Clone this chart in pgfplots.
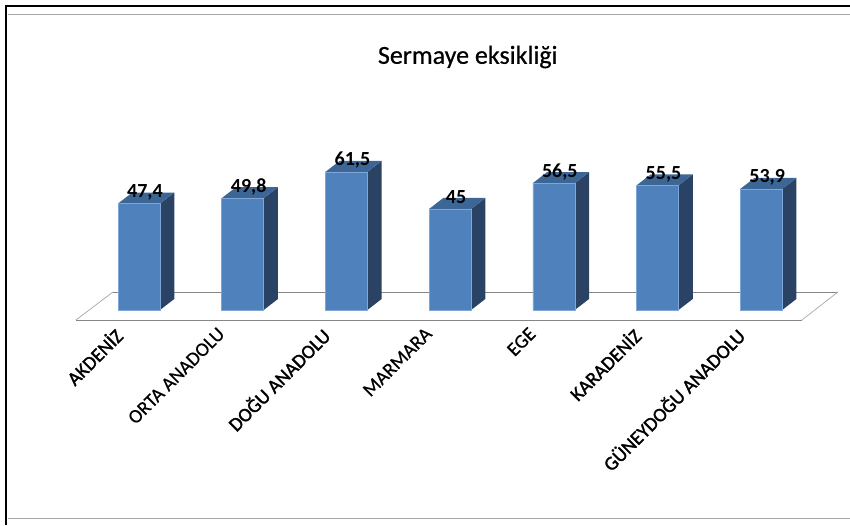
\documentclass[border=0pt]{standalone}
\usepackage{fontspec}
\usepackage{pgfplots}
\pgfplotsset{compat=1.18}
\setmainfont{Carlito}
\newfontfamily\smear[FakeBold=1.6]{Carlito}
\newfontfamily\semi[FakeBold=0.5]{Carlito}
\definecolor{barfront}{HTML}{4F81BD}
\definecolor{barside}{HTML}{2A4365}
\definecolor{bartop}{HTML}{3C6696}
\definecolor{baredge}{HTML}{7FA6D6}
\definecolor{floorline}{HTML}{868686}
\begin{document}
\begin{tikzpicture}
\begin{axis}[
    scale only axis,
    width=850pt, height=525pt,
    xmin=-1.3404, xmax=6.8563,
    ymin=-95.8, ymax=138.1,
    clip=false,
    axis x line=middle,
    axis y line=none,
    x axis line style={draw=none},
    major tick length=0pt,
    xtick={0,1,2,3,4,5,6},
    ytick=\empty,
    xticklabels={{\smear AKDENİZ},{\semi ORTA ANADOLU},{\smear DOĞU ANADOLU},{\semi MARMARA},{\semi EGE},{\smear KARADENİZ},{\smear GÜNEYDOĞU ANADOLU}},
    xticklabel style={font=\fontsize{19.5}{19.5}\selectfont, anchor=north east, xshift=-26pt, yshift=-16pt, rotate=45, inner sep=0pt},
]
\coordinate (sw) at (rel axis cs:0,0);
\coordinate (ne) at (rel axis cs:1,1);
% floor
\addplot[floorline, line width=0.9pt] coordinates {(-0.6075,-4.46) (6.393,-4.46)};
\addplot[floorline, line width=0.9pt] coordinates {(-0.2507,8.02) (6.74,8.02)};
\addplot[gray!70, line width=0.7pt] coordinates {(-0.6075,-4.46) (-0.2507,8.02)};
\addplot[gray!70, line width=0.7pt] coordinates {(6.393,-4.46) (6.74,8.02)};
% side faces
\addplot[fill=barside, draw=none] coordinates {(0.2027,0) (0.3400,4.9) (0.3400,52.3) (0.2027,47.4)} -- cycle;
\addplot[fill=barside, draw=none] coordinates {(1.2027,0) (1.3400,4.9) (1.3400,54.7) (1.2027,49.8)} -- cycle;
\addplot[fill=barside, draw=none] coordinates {(2.2027,0) (2.3400,4.9) (2.3400,66.4) (2.2027,61.5)} -- cycle;
\addplot[fill=barside, draw=none] coordinates {(3.2027,0) (3.3400,4.9) (3.3400,49.9) (3.2027,45)} -- cycle;
\addplot[fill=barside, draw=none] coordinates {(4.2027,0) (4.3400,4.9) (4.3400,61.4) (4.2027,56.5)} -- cycle;
\addplot[fill=barside, draw=none] coordinates {(5.2027,0) (5.3400,4.9) (5.3400,60.4) (5.2027,55.5)} -- cycle;
\addplot[fill=barside, draw=none] coordinates {(6.2027,0) (6.3400,4.9) (6.3400,58.8) (6.2027,53.9)} -- cycle;
% top faces
\addplot[fill=bartop, draw=none] coordinates {(-0.2027,47.4) (0.2027,47.4) (0.3400,52.3) (-0.0654,52.3)} -- cycle;
\addplot[fill=bartop, draw=none] coordinates {(0.7973,49.8) (1.2027,49.8) (1.3400,54.7) (0.9346,54.7)} -- cycle;
\addplot[fill=bartop, draw=none] coordinates {(1.7973,61.5) (2.2027,61.5) (2.3400,66.4) (1.9346,66.4)} -- cycle;
\addplot[fill=bartop, draw=none] coordinates {(2.7973,45) (3.2027,45) (3.3400,49.9) (2.9346,49.9)} -- cycle;
\addplot[fill=bartop, draw=none] coordinates {(3.7973,56.5) (4.2027,56.5) (4.3400,61.4) (3.9346,61.4)} -- cycle;
\addplot[fill=bartop, draw=none] coordinates {(4.7973,55.5) (5.2027,55.5) (5.3400,60.4) (4.9346,60.4)} -- cycle;
\addplot[fill=bartop, draw=none] coordinates {(5.7973,53.9) (6.2027,53.9) (6.3400,58.8) (5.9346,58.8)} -- cycle;
% front faces with the values
\addplot[ybar, bar width=42pt, fill=barfront, draw=baredge, line width=0.5pt,
    nodes near coords,
    point meta=y,
    every node near coord/.append style={
        font=\bfseries\fontsize{20}{20}\selectfont, text=black, anchor=center, xshift=6pt, yshift=11.5pt,
        /pgf/number format/use comma, /pgf/number format/assume math mode=true,
        /pgf/number format/precision=1},
] coordinates {(0,47.4) (1,49.8) (2,61.5) (3,45) (4,56.5) (5,55.5) (6,53.9)};
% frame
\addplot[black, line width=2pt] coordinates {(-1.2825,-95.8) (-1.2825,135.4) (6.8563,135.4)};
\addplot[black!35, line width=1pt] coordinates {(-1.265,131.5) (6.8563,131.5)};
\addplot[black!35, line width=1pt] coordinates {(-1.265,-93.1) (6.8563,-93.1)};
\node[font=\semi\fontsize{26}{26}\selectfont, text=black] at (axis cs:3.17,112.7) {Sermaye eksikliği};
\end{axis}
\pgfresetboundingbox
\path[use as bounding box] (sw) rectangle (ne);
\end{tikzpicture}
\end{document}
